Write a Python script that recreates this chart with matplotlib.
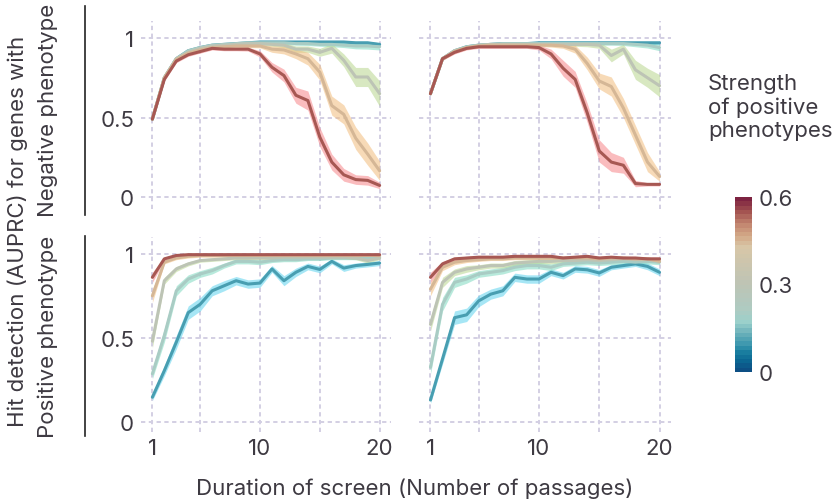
import numpy as np
import matplotlib
matplotlib.use("Agg")
import matplotlib.pyplot as plt
from matplotlib.colors import LinearSegmentedColormap, Normalize
from matplotlib.colorbar import ColorbarBase

plt.rcParams['font.family'] = ['Inter', 'Liberation Sans', 'DejaVu Sans']
TXT = '#3e3a42'
FS = 16

# ---------------- data ----------------
passages = list(range(1, 21))
strengths = [0.1, 0.2, 0.3, 0.45, 0.55]

# Negative phenotype, left panel (mean AUPRC per strength)
neg_left = [
    [0.49, 0.75, 0.87, 0.92, 0.94, 0.955, 0.96, 0.965, 0.97, 0.975, 0.975, 0.975, 0.975, 0.975, 0.975, 0.975, 0.975, 0.97, 0.97, 0.96],
    [0.49, 0.75, 0.87, 0.92, 0.94, 0.955, 0.96, 0.965, 0.97, 0.97, 0.97, 0.97, 0.965, 0.965, 0.96, 0.96, 0.955, 0.95, 0.95, 0.945],
    [0.49, 0.75, 0.87, 0.91, 0.935, 0.95, 0.955, 0.96, 0.965, 0.965, 0.96, 0.955, 0.93, 0.93, 0.91, 0.935, 0.86, 0.755, 0.755, 0.65],
    [0.49, 0.75, 0.865, 0.905, 0.925, 0.94, 0.945, 0.95, 0.95, 0.95, 0.93, 0.925, 0.90, 0.87, 0.785, 0.575, 0.52, 0.37, 0.27, 0.165],
    [0.49, 0.74, 0.855, 0.895, 0.915, 0.935, 0.93, 0.93, 0.93, 0.90, 0.816, 0.764, 0.64, 0.607, 0.377, 0.22, 0.14, 0.11, 0.105, 0.073],
]
neg_left_sd = [
    [0.01] * 20,
    [0.01, 0.01, 0.01, 0.01, 0.01, 0.01, 0.01, 0.01, 0.01, 0.01, 0.01, 0.01, 0.01, 0.012, 0.012, 0.015, 0.015, 0.018, 0.02, 0.02],
    [0.01, 0.01, 0.01, 0.01, 0.01, 0.01, 0.01, 0.01, 0.01, 0.01, 0.012, 0.015, 0.02, 0.02, 0.025, 0.03, 0.04, 0.06, 0.06, 0.08],
    [0.01, 0.01, 0.01, 0.01, 0.01, 0.01, 0.01, 0.01, 0.01, 0.012, 0.02, 0.025, 0.03, 0.04, 0.05, 0.06, 0.06, 0.07, 0.07, 0.06],
    [0.01, 0.01, 0.01, 0.01, 0.01, 0.01, 0.01, 0.01, 0.012, 0.02, 0.03, 0.04, 0.05, 0.06, 0.06, 0.05, 0.04, 0.03, 0.03, 0.02],
]

# Negative phenotype, right panel
neg_right = [
    [0.65, 0.87, 0.92, 0.945, 0.955, 0.96, 0.965, 0.965, 0.965, 0.97, 0.97, 0.97, 0.97, 0.97, 0.97, 0.97, 0.97, 0.97, 0.97, 0.97],
    [0.65, 0.87, 0.92, 0.945, 0.955, 0.96, 0.965, 0.965, 0.965, 0.965, 0.965, 0.965, 0.965, 0.965, 0.965, 0.965, 0.965, 0.96, 0.955, 0.94],
    [0.65, 0.87, 0.92, 0.94, 0.955, 0.96, 0.96, 0.96, 0.96, 0.96, 0.96, 0.96, 0.96, 0.96, 0.955, 0.89, 0.93, 0.80, 0.75, 0.70],
    [0.65, 0.87, 0.915, 0.94, 0.95, 0.955, 0.955, 0.955, 0.955, 0.955, 0.955, 0.95, 0.93, 0.84, 0.73, 0.695, 0.56, 0.39, 0.22, 0.13],
    [0.65, 0.87, 0.91, 0.935, 0.945, 0.945, 0.945, 0.945, 0.945, 0.94, 0.90, 0.81, 0.74, 0.53, 0.29, 0.22, 0.20, 0.085, 0.08, 0.08],
]
neg_right_sd = [
    [0.01] * 20,
    [0.01, 0.01, 0.01, 0.01, 0.01, 0.01, 0.01, 0.01, 0.01, 0.01, 0.01, 0.01, 0.01, 0.01, 0.01, 0.01, 0.012, 0.015, 0.018, 0.02],
    [0.01, 0.01, 0.01, 0.01, 0.01, 0.01, 0.01, 0.01, 0.01, 0.01, 0.01, 0.01, 0.012, 0.015, 0.02, 0.04, 0.03, 0.06, 0.06, 0.07],
    [0.01, 0.01, 0.01, 0.01, 0.01, 0.01, 0.01, 0.01, 0.01, 0.01, 0.012, 0.015, 0.025, 0.04, 0.05, 0.06, 0.06, 0.06, 0.06, 0.03],
    [0.01, 0.01, 0.01, 0.01, 0.01, 0.01, 0.01, 0.01, 0.01, 0.015, 0.03, 0.05, 0.05, 0.06, 0.07, 0.06, 0.05, 0.02, 0.01, 0.01],
]

# Positive phenotype, left panel
pos_left = [
    [0.147, 0.305, 0.474, 0.65, 0.70, 0.78, 0.81, 0.84, 0.82, 0.826, 0.91, 0.84, 0.89, 0.925, 0.907, 0.955, 0.915, 0.93, 0.937, 0.945],
    [0.286, 0.514, 0.78, 0.85, 0.88, 0.90, 0.93, 0.955, 0.955, 0.95, 0.96, 0.965, 0.965, 0.97, 0.97, 0.975, 0.975, 0.975, 0.975, 0.98],
    [0.48, 0.84, 0.91, 0.94, 0.96, 0.965, 0.97, 0.975, 0.975, 0.975, 0.975, 0.98, 0.98, 0.98, 0.98, 0.98, 0.98, 0.975, 0.96, 0.975],
    [0.75, 0.95, 0.975, 0.985, 0.99, 0.99, 0.99, 0.99, 0.99, 0.99, 0.99, 0.99, 0.99, 0.99, 0.99, 0.99, 0.99, 0.99, 0.99, 0.99],
    [0.86, 0.97, 0.99, 0.995, 0.995, 0.995, 0.995, 0.995, 0.995, 0.995, 0.995, 0.995, 0.995, 0.995, 0.995, 0.995, 0.995, 0.995, 0.995, 0.995],
]
pos_left_sd = [
    [0.02, 0.03, 0.04, 0.04, 0.04, 0.03, 0.03, 0.025, 0.025, 0.025, 0.02, 0.03, 0.025, 0.02, 0.02, 0.015, 0.02, 0.015, 0.015, 0.015],
    [0.03, 0.04, 0.03, 0.025, 0.02, 0.02, 0.015, 0.015, 0.015, 0.015, 0.012, 0.012, 0.012, 0.01, 0.01, 0.01, 0.01, 0.01, 0.01, 0.01],
    [0.04, 0.02, 0.015, 0.012, 0.01, 0.01, 0.01, 0.01, 0.01, 0.01, 0.01, 0.01, 0.01, 0.01, 0.01, 0.01, 0.01, 0.01, 0.015, 0.01],
    [0.04, 0.01, 0.01, 0.01, 0.01, 0.01, 0.01, 0.01, 0.01, 0.01, 0.01, 0.01, 0.01, 0.01, 0.01, 0.01, 0.01, 0.01, 0.01, 0.01],
    [0.03, 0.01, 0.01, 0.005, 0.005, 0.005, 0.005, 0.005, 0.005, 0.005, 0.005, 0.005, 0.005, 0.005, 0.005, 0.005, 0.005, 0.005, 0.005, 0.005],
]

# Positive phenotype, right panel
pos_right = [
    [0.13, 0.375, 0.62, 0.637, 0.72, 0.76, 0.78, 0.86, 0.85, 0.85, 0.89, 0.87, 0.91, 0.905, 0.886, 0.92, 0.93, 0.94, 0.925, 0.89],
    [0.325, 0.70, 0.83, 0.85, 0.88, 0.89, 0.90, 0.92, 0.93, 0.93, 0.92, 0.94, 0.945, 0.95, 0.945, 0.95, 0.955, 0.95, 0.955, 0.95],
    [0.58, 0.83, 0.89, 0.91, 0.92, 0.93, 0.93, 0.945, 0.95, 0.955, 0.955, 0.96, 0.96, 0.965, 0.96, 0.965, 0.97, 0.965, 0.965, 0.96],
    [0.79, 0.92, 0.95, 0.96, 0.965, 0.97, 0.97, 0.975, 0.975, 0.975, 0.975, 0.975, 0.975, 0.975, 0.97, 0.975, 0.975, 0.97, 0.97, 0.955],
    [0.86, 0.94, 0.97, 0.975, 0.98, 0.98, 0.98, 0.985, 0.985, 0.985, 0.985, 0.975, 0.98, 0.985, 0.975, 0.98, 0.975, 0.975, 0.97, 0.97],
]
pos_right_sd = [
    [0.02, 0.03, 0.04, 0.04, 0.035, 0.03, 0.03, 0.025, 0.025, 0.025, 0.02, 0.02, 0.02, 0.02, 0.02, 0.015, 0.015, 0.015, 0.02, 0.02],
    [0.04, 0.04, 0.03, 0.025, 0.02, 0.02, 0.02, 0.02, 0.02, 0.02, 0.02, 0.015, 0.015, 0.015, 0.015, 0.015, 0.015, 0.015, 0.015, 0.015],
    [0.04, 0.03, 0.02, 0.02, 0.015, 0.015, 0.015, 0.015, 0.015, 0.015, 0.015, 0.012, 0.012, 0.012, 0.012, 0.012, 0.012, 0.012, 0.012, 0.012],
    [0.04, 0.02, 0.015, 0.012, 0.01, 0.01, 0.01, 0.01, 0.01, 0.01, 0.01, 0.01, 0.01, 0.01, 0.01, 0.01, 0.01, 0.01, 0.012, 0.012],
    [0.03, 0.015, 0.01, 0.01, 0.01, 0.01, 0.01, 0.01, 0.01, 0.01, 0.01, 0.01, 0.01, 0.01, 0.01, 0.01, 0.01, 0.01, 0.01, 0.01],
]

# ---------------- styles ----------------
cmap = LinearSegmentedColormap.from_list('strength', [
    (0.00, '#0d4f84'), (0.05, '#0b6592'), (0.10, '#177c9e'), (0.15, '#3d98ae'),
    (0.22, '#6fb3bb'), (0.28, '#9ad0cb'), (0.35, '#aecbc2'), (0.50, '#bdc4b5'),
    (0.72, '#d8c6a7'), (0.78, '#d3aa88'), (0.85, '#c38771'), (0.92, '#a65652'),
    (1.00, '#7d2341')])
norm = Normalize(0, 0.6)
ribbon_colors = ['#5ed3ee', '#7fd9c0', '#b9d68f', '#f2bd7d', '#f7868a']

W, H = 835, 502
fig = plt.figure(figsize=(W / 100, H / 100), dpi=100)

def rect(x0, x1, y0, y1):
    return [x0 / W, 1 - y1 / H, (x1 - x0) / W, (y1 - y0) / H]

panels = [
    (rect(141, 391, 22, 210), neg_left, neg_left_sd, (-0.075, 1.107), True, False),
    (rect(419, 671, 22, 210), neg_right, neg_right_sd, (-0.075, 1.107), False, False),
    (rect(141, 391, 238, 433), pos_left, pos_left_sd, (-0.06, 1.10), True, True),
    (rect(419, 671, 238, 433), pos_right, pos_right_sd, (-0.06, 1.10), False, True),
]

x = np.array(passages)
for pos, means, sds, ylim, show_y, show_x in panels:
    ax = fig.add_axes(pos)
    ax.set_xlim(0.05, 20.95)
    ax.set_ylim(*ylim)
    ax.set_xticks([1, 10, 20])
    ax.set_xticks([5, 15], minor=True)
    ax.set_yticks([0, 0.5, 1])
    ax.set_yticklabels(['0', '0.5', '1'] if show_y else [])
    ax.set_xticklabels(['1', '10', '20'] if show_x else [])
    for s in ax.spines.values():
        s.set_visible(False)
    ax.tick_params(which='both', length=0, labelsize=FS, colors=TXT)
    ax.tick_params(axis='y', pad=5)
    ax.tick_params(axis='x', pad=4)
    ax.grid(True, which='both', axis='x', color='#d3cfe3', lw=1.4, ls=(0, (2.2, 1.8)))
    ax.grid(True, which='major', axis='y', color='#d3cfe3', lw=1.4, ls=(0, (2.2, 1.8)))
    ax.set_axisbelow(True)
    for m, sd, fc in zip(means, sds, ribbon_colors):
        m = np.array(m); sd = np.array(sd)
        ax.fill_between(x, m - sd, m + sd, color=fc, alpha=0.55, lw=0)
    for m, st in zip(means, strengths):
        ax.plot(x, m, color=cmap(norm(st)), lw=2.2, solid_capstyle='round',
                solid_joinstyle='round')

# labels
fig.text(415 / W, 1 - 489 / H, 'Duration of screen (Number of passages)',
         ha='center', va='center', fontsize=FS, color=TXT)
fig.text(18 / W, 1 - 231 / H, 'Hit detection (AUPRC) for genes with',
         ha='center', va='center', rotation=90, fontsize=FS, color=TXT)
fig.text(48 / W, 1 - 110 / H, 'Negative phenotype',
         ha='center', va='center', rotation=90, fontsize=FS, color=TXT)
fig.text(48 / W, 1 - 337 / H, 'Positive phenotype',
         ha='center', va='center', rotation=90, fontsize=FS, color=TXT)
fig.add_artist(plt.Line2D([85 / W, 85 / W], [1 - 7 / H, 1 - 216 / H], color='#222222', lw=1.2))
fig.add_artist(plt.Line2D([85 / W, 85 / W], [1 - 237 / H, 1 - 437 / H], color='#222222', lw=1.2))

# colorbar
cax = fig.add_axes(rect(735, 752, 198, 373))
cb = ColorbarBase(cax, cmap=cmap.resampled(40), norm=norm, ticks=[0, 0.3, 0.6])
cb.outline.set_visible(False)
cb.ax.set_yticklabels(['0', '0.3', '0.6'])
cb.ax.tick_params(length=0, labelsize=FS, colors=TXT, pad=5)
fig.text(708 / W, 1 - 74 / H, 'Strength\nof positive\nphenotypes', ha='left', va='top',
         fontsize=FS, color=TXT, linespacing=1.2)

fig.savefig('out.png', dpi=100)
